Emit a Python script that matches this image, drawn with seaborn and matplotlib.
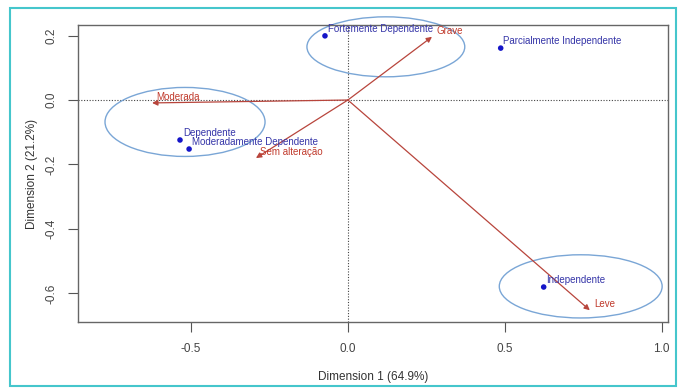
import matplotlib
matplotlib.use("Agg")
import pandas as pd
import seaborn as sns
import matplotlib.pyplot as plt
from matplotlib.patches import Ellipse, Rectangle

# Dados (coordenadas das categorias)
cat_names = ["Fortemente Dependente", "Parcialmente Independente", "Dependente",
             "Moderadamente Dependente", "Independente"]
cat_x = [-0.073, 0.487, -0.535, -0.506, 0.624]
cat_y = [0.199, 0.161, -0.124, -0.152, -0.580]

# Vetores (setas a partir da origem)
vec_names = ["Grave", "Moderada", "Sem alteração", "Leve"]
vec_x = [0.268, -0.624, -0.293, 0.771]
vec_y = [0.196, -0.009, -0.180, -0.652]

# Elipses: centro x, centro y, largura, altura
ell_cx = [0.121, -0.519, 0.742]
ell_cy = [0.165, -0.068, -0.578]
ell_w = [0.503, 0.51, 0.519]
ell_h = [0.186, 0.214, 0.196]

df = pd.DataFrame({"x": cat_x, "y": cat_y, "nome": cat_names})

sns.set_style("white")
plt.rcParams['font.family'] = ['Liberation Sans', 'DejaVu Sans']
plt.rcParams['axes.unicode_minus'] = False

fig = plt.figure(figsize=(6.82, 3.89), dpi=100)
ax = fig.add_axes([0.1144, 0.171, 0.865, 0.765])

# borda turquesa em volta da figura
fig.patches.append(Rectangle((0.0147, 0.008), 0.977, 0.971, transform=fig.transFigure,
                             fill=False, edgecolor="#45c6cc", linewidth=1.5))

ax.axhline(0, color="#444444", linestyle=(0, (1, 1.5)), linewidth=0.8, zorder=1)
ax.axvline(0, color="#444444", linestyle=(0, (1, 1.5)), linewidth=0.8, zorder=1)

# setas
for nome, vx, vy in zip(vec_names, vec_x, vec_y):
    ax.annotate("", xy=(vx, vy), xytext=(0, 0),
                arrowprops=dict(arrowstyle="-|>", color="#b8453c", lw=0.9,
                                mutation_scale=8, shrinkA=0, shrinkB=0))
    ax.annotate(nome, xy=(vx, vy), xytext=(3, 2), textcoords="offset points",
                color="#c0392b", fontsize=7)

sns.scatterplot(data=df, x="x", y="y", color="#1515c8", s=16, edgecolor="none",
                ax=ax, zorder=3)
for nome, px, py in zip(cat_names, cat_x, cat_y):
    ax.annotate(nome, xy=(px, py), xytext=(2, 3), textcoords="offset points",
                color="#3535a8", fontsize=7)

for cx, cy, w, h in zip(ell_cx, ell_cy, ell_w, ell_h):
    ax.add_patch(Ellipse((cx, cy), w, h, fill=False, edgecolor="#7aa6d6", lw=1.0,
                         clip_on=False))

ax.set_xlim(-0.86, 1.02)
ax.set_ylim(-0.69, 0.233)
ax.set_xticks([-0.5, 0.0, 0.5, 1.0])
ax.set_yticks([-0.6, -0.4, -0.2, 0.0, 0.2])
ax.set_yticklabels(["-0.6", "-0.4", "-0.2", "0.0", "0.2"], rotation=90, va="center")
ax.tick_params(direction="out", length=7, width=0.8, color="#555555",
               labelcolor="#444444", labelsize=8.5, bottom=True, left=True)
ax.tick_params(axis="x", pad=8)
ax.tick_params(axis="y", pad=8)
for sp in ax.spines.values():
    sp.set_color("#666666")
    sp.set_linewidth(1.0)

ax.set_xlabel("Dimension 1 (64.9%)", fontsize=8.5, color="#333333", labelpad=11)
ax.set_ylabel("Dimension 2 (21.2%)", fontsize=8.5, color="#333333", labelpad=5)

fig.savefig("out.png", dpi=100)
